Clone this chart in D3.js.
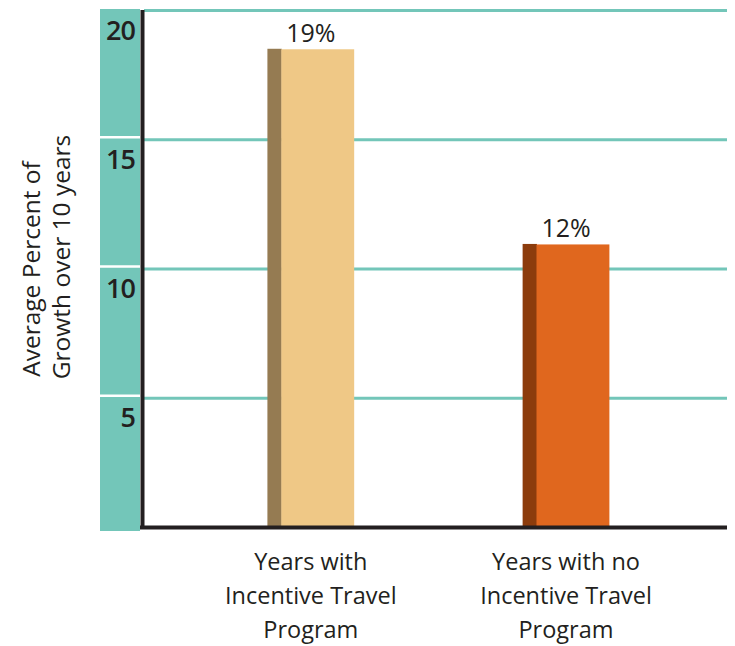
<!DOCTYPE html>
<meta charset="utf-8">
<style>
  body { margin: 0; background: #fff; }
  text { font-family: "Open Sans", sans-serif; fill: #231f20; }
</style>
<body>
<script src="https://cdn.jsdelivr.net/npm/d3@7"></script>
<script>

// data
var categories = [["Years with", "Incentive Travel", "Program"],
                  ["Years with no", "Incentive Travel", "Program"]];
var barValues = [18.5, 10.95];          // heights as drawn
var valueLabels = ["19%", "12%"];
var tickValues = [5, 10, 15, 20];
var yTitle = ["Average Percent of", "Growth over 10 years"];

var fronts = ["#efc886", "#e0671e"],
    sides  = ["#957b52", "#8c3c0c"],
    teal = "#73c6b9";

var W = 735, H = 646;
var plot = {left: 140, right: 727, top: 10, bottom: 527};

var svg = d3.select("body").append("svg")
    .attr("width", W)
    .attr("height", H);

// set the ranges
var y = d3.scaleLinear().domain([0, 20]).range([plot.bottom, plot.top]);
var x = d3.scaleBand()
    .domain(d3.range(categories.length))
    .range([plot.left, plot.right])
    .paddingInner(0.66)
    .paddingOuter(0.48)
    .align(0.52);

// teal band behind the tick labels
svg.append("rect")
    .attr("x", 100).attr("y", 9)
    .attr("width", 40).attr("height", 522)
    .style("fill", teal);

// white breaks in the band
svg.selectAll(".gap")
    .data(tickValues.slice(0, 3))
  .enter().append("line")
    .attr("x1", 100).attr("x2", 141)
    .attr("y1", function(d) { return y(d) - 2; })
    .attr("y2", function(d) { return y(d) - 2; })
    .style("stroke", "#fff").style("stroke-width", 2.5);

// gridlines
var grid = svg.append("g")
    .attr("transform", "translate(" + plot.right + ",0)")
    .call(d3.axisLeft(y).tickValues(tickValues).tickSize(plot.right - plot.left - 4).tickFormat(""));
grid.select(".domain").remove();
grid.selectAll(".tick line").style("stroke", teal).style("stroke-width", 3);

// tick labels
var yAxis = svg.append("g")
    .attr("transform", "translate(135,0)")
    .call(d3.axisLeft(y).tickValues(tickValues).tickSize(0).tickPadding(0));
yAxis.select(".domain").remove();
yAxis.selectAll("text")
    .attr("dy", 29)
    .style("font-family", "'Open Sans', sans-serif")
    .style("font-size", "27px")
    .style("font-weight", "600")
    .style("letter-spacing", "-1px")
    .style("fill", "#231f20");

// bars: side face + front face
var sideW = x.bandwidth() * 0.16;
var bars = svg.selectAll(".bar")
    .data(barValues)
  .enter().append("g")
    .attr("class", "bar");

bars.append("rect")
    .attr("x", function(d, i) { return x(i); })
    .attr("y", function(d) { return y(d); })
    .attr("width", sideW + 0.5)
    .attr("height", function(d) { return y(0) - y(d); })
    .style("fill", function(d, i) { return sides[i]; });

bars.append("rect")
    .attr("x", function(d, i) { return x(i) + sideW; })
    .attr("y", function(d) { return y(d) + 0.5; })
    .attr("width", x.bandwidth() - sideW)
    .attr("height", function(d) { return y(0) - y(d) - 0.5; })
    .style("fill", function(d, i) { return fronts[i]; });

bars.append("text")
    .attr("x", function(d, i) { return x(i) + x.bandwidth() / 2; })
    .attr("y", function(d) { return y(d) - 7; })
    .attr("text-anchor", "middle")
    .style("font-size", "25px")
    .text(function(d, i) { return valueLabels[i]; });

// axis lines
svg.append("line")
    .attr("x1", 142.5).attr("x2", 142.5)
    .attr("y1", plot.top).attr("y2", plot.bottom + 2)
    .style("stroke", "#231f20").style("stroke-width", 4);
svg.append("line")
    .attr("x1", plot.left).attr("x2", plot.right)
    .attr("y1", plot.bottom + 0.5).attr("y2", plot.bottom + 0.5)
    .style("stroke", "#231f20").style("stroke-width", 4);

// category labels
var cat = svg.selectAll(".cat")
    .data(categories)
  .enter().append("text")
    .attr("class", "cat")
    .attr("text-anchor", "middle")
    .style("font-size", "23.5px");
cat.selectAll("tspan")
    .data(function(d, i) { return d.map(function(s) { return {s: s, i: i}; }); })
  .enter().append("tspan")
    .attr("x", function(d) { return x(d.i) + x.bandwidth() / 2; })
    .attr("y", function(d, j) { return 570 + j * 34; })
    .text(function(d) { return d.s; });

// y title
svg.selectAll(".ytitle")
    .data(yTitle)
  .enter().append("text")
    .attr("class", "ytitle")
    .attr("text-anchor", "middle")
    .attr("transform", function(d, i) { return "translate(" + (40 + i * 30) + "," + (269 - i * 12) + ")rotate(-90)"; })
    .style("font-size", "24.5px")
    .text(function(d) { return d; });

</script>
</body>
